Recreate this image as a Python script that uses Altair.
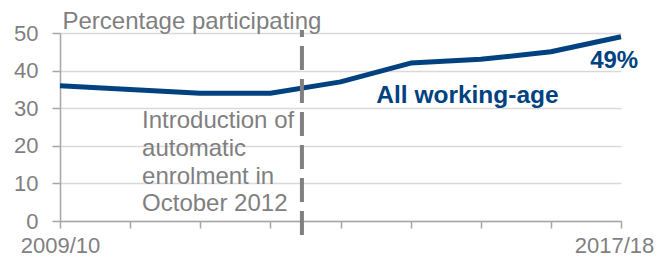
import altair as alt
import pandas as pd

years = ["2009/10", "2010/11", "2011/12", "2012/13", "2013/14",
         "2014/15", "2015/16", "2016/17", "2017/18"]
values = [36, 35, 34, 34, 37, 42, 43, 45, 49]
y_ticks = [0, 10, 20, 30, 40, 50]

marker_x = [3.45]
marker_top = [50.8]
marker_bottom = [-4.0]

note_text = ["Introduction of\nautomatic\nenrolment in\nOctober 2012"]
note_x = [1.17]
note_y = [24.7]

series_label = ["All working-age"]
series_label_x = [4.51]
series_label_y = [31.4]

end_label = ["49%"]
end_label_x = [7.56]
end_label_y = [40.7]

GRAY = "#7f7f7f"
BLUE = "#00427f"
FONT = "Liberation Sans"

df = pd.DataFrame({"i": list(range(len(years))), "year": years, "v": values})
rule_df = pd.DataFrame({"i": marker_x, "v": marker_top, "bottom": marker_bottom})
note_df = pd.DataFrame({"i": note_x, "v": note_y, "t": note_text})
lab_df = pd.DataFrame({"i": series_label_x, "v": series_label_y, "t": series_label})
end_df = pd.DataFrame({"i": end_label_x, "v": end_label_y, "t": end_label})

last = len(years) - 1
label_expr = (
    f"datum.value == 0 ? '{years[0]}' : "
    f"datum.value == {last} ? '{years[last]}' : ''"
)

x_scale = alt.Scale(domain=[0, last], nice=False, zero=False)
y_scale = alt.Scale(domain=[0, 50], nice=False)

x_axis = alt.Axis(
    values=list(range(len(years))), labelExpr=label_expr, grid=False,
    domainColor="#a6a6a6", domainWidth=1.5, tickColor="#a6a6a6", tickWidth=1.5,
    tickSize=7, labelPadding=7, labelFontSize=22, labelColor=GRAY,
    labelFont=FONT, title=None, labelAlign="center", labelOverlap=False,
    labelFlush=False,
    labelOffset={"condition": {"test": f"datum.value == {last}", "value": -7}, "value": 0},
)
y_axis = alt.Axis(
    values=y_ticks, tickCount=6, grid=True, gridColor="#d9d9d9", gridWidth=1.5,
    domainColor="#a6a6a6", domainWidth=1.5, tickColor="#a6a6a6", tickWidth=1.5,
    tickSize=8, labelPadding=14, labelFontSize=22, labelColor=GRAY, labelFont=FONT,
    labelOverlap=False, labelFlush=False,
    title="Percentage participating", titleAngle=0, titleAlign="left",
    titleBaseline="alphabetic", titleX=2, titleY=-5, titleFontSize=24,
    titleFontWeight="normal", titleColor=GRAY, titleFont=FONT,
)

X = alt.X("i:Q", scale=x_scale, axis=x_axis)
Y = alt.Y("v:Q", scale=y_scale, axis=y_axis)

line = alt.Chart(df).mark_line(color=BLUE, strokeWidth=5, strokeJoin="round").encode(
    x=X, y=Y,
)

rule = alt.Chart(rule_df).mark_rule(
    color="#808080", strokeWidth=4, strokeDash=[24, 9], strokeDashOffset=17
).encode(x=X, y=Y, y2="bottom:Q")

def text_layer(data, **kw):
    return alt.Chart(data).mark_text(
        align="left", baseline="alphabetic", font=FONT, **kw
    ).encode(x=X, y=Y, text="t:N")

note = text_layer(note_df, fontSize=24, lineBreak="\n", lineHeight=27.7, color=GRAY)
lab = text_layer(lab_df, fontSize=24.5, fontWeight="bold", color=BLUE)
endl = text_layer(end_df, fontSize=24, fontWeight="bold", color=BLUE)

chart = alt.layer(line, rule, note, lab, endl).properties(
    width=561, height=188,
    autosize=alt.AutoSizeParams(type="none"),
    padding={"left": 52, "top": 25, "right": 36, "bottom": 36},
).configure(font=FONT, view=alt.ViewConfig(stroke=None))

chart.save("out.html", embed_options={"renderer": "svg", "actions": False})
